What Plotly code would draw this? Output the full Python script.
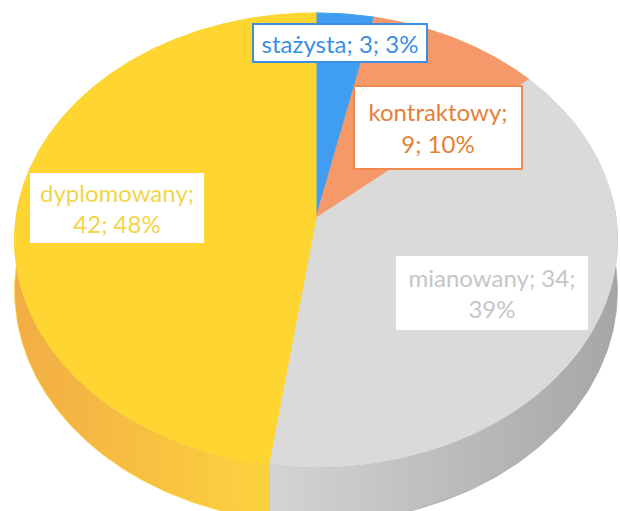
import numpy as np
import plotly.graph_objects as go

# ---------------- data ----------------
categories = ["stażysta", "kontraktowy", "mianowany", "dyplomowany"]
values = [3, 9, 34, 42]
top_colors = ["#3f9ef2", "#f5996a", "#dadada", "#ffd531"]
side_colors = [("#2f86d6", "#2f86d6"), ("#e8874f", "#e8874f"),
               ("#d4d4d4", "#a6a6a6"), ("#f2ad45", "#fcd23e")]
text_colors = ["#3a8fe3", "#e57f38", "#c6c6c6", "#f2d54a"]
border_colors = ["#3a8fe3", "#ef8a4c", "#ffffff", "#ffffff"]
label_breaks = ["", "after_name", "before_pct", "after_name"]
# label box centres / sizes (pixels)
label_pos = [(340, 43), (438, 127), (492, 293), (117, 208)]
label_size = [(172, 36), (166, 81), (188, 70), (170, 66)]

# ---------------- geometry (3-D tilted disk) ----------------
W, H = 620, 511
CX, CY = 316, 218
A, B, K = 300, 225, 0.097
DEPTH = 50


def project(t_deg, drop=0.0):
    t = np.radians(t_deg)
    u, v = np.sin(t), -np.cos(t)
    w = 1 - K * v
    return CX + A * u / w, CY + B * v / w + drop / w


total = sum(values)
bounds = np.concatenate([[0], np.cumsum(values)]) / total * 360.0

fig = go.Figure()

# walls (front part only)
for i in range(len(values)):
    t1, t2 = bounds[i], bounds[i + 1]
    a, b = max(t1, 84.0), min(t2, 276.0)
    if a >= b:
        continue
    ts = np.linspace(a, b, 120)
    xt, yt = project(ts)
    xb, yb = project(ts[::-1], DEPTH)
    xs = np.concatenate([xt, xb, xt[:1]])
    ys = np.concatenate([yt, yb, yt[:1]])
    c1, c2 = side_colors[i]
    fig.add_trace(go.Scatter(
        x=xs, y=ys, mode="lines", fill="toself",
        line=dict(width=0.8, color=c2),
        fillgradient=dict(type="horizontal",
                          colorscale=[[0, c1], [1, c2]]),
        hoverinfo="skip", showlegend=False))

# top surfaces
for i in range(len(values)):
    t1, t2 = bounds[i], bounds[i + 1]
    ts = np.linspace(t1, t2, max(8, int((t2 - t1) * 2)))
    xt, yt = project(ts)
    xs = np.concatenate([[CX], xt, [CX]])
    ys = np.concatenate([[CY], yt, [CY]])
    fig.add_trace(go.Scatter(
        x=xs, y=ys, mode="lines", fill="toself",
        fillcolor=top_colors[i], line=dict(width=1, color=top_colors[i]),
        hoverinfo="skip", showlegend=False))

# labels
for i, cat in enumerate(categories):
    pct = round(values[i] / total * 100)
    if label_breaks[i] == "after_name":
        txt = f"{cat};<br>{values[i]}; {pct}%"
    elif label_breaks[i] == "before_pct":
        txt = f"{cat}; {values[i]};<br>{pct}%"
    else:
        txt = f"{cat}; {values[i]}; {pct}%"
    (x, y), (bw, bh) = label_pos[i], label_size[i]
    fig.add_annotation(
        x=x, y=y, xref="x", yref="y", text=txt, showarrow=False,
        xanchor="center", yanchor="middle", align="center",
        width=bw, height=bh, bgcolor="#ffffff",
        bordercolor=border_colors[i], borderwidth=2, borderpad=0,
        font=dict(family="Lato", size=24, color=text_colors[i]))

fig.update_layout(
    width=W, height=H, margin=dict(l=0, r=0, t=0, b=0),
    paper_bgcolor="#ffffff", plot_bgcolor="#ffffff",
    xaxis=dict(range=[0, W], visible=False, fixedrange=True),
    yaxis=dict(range=[H, 0], visible=False, fixedrange=True),
    showlegend=False, hovermode=False)

fig.write_html("out.html",
               config={"displayModeBar": False, "staticPlot": True},
               post_script="document.body.style.margin='0';"
                           "document.body.style.overflow='hidden';")
